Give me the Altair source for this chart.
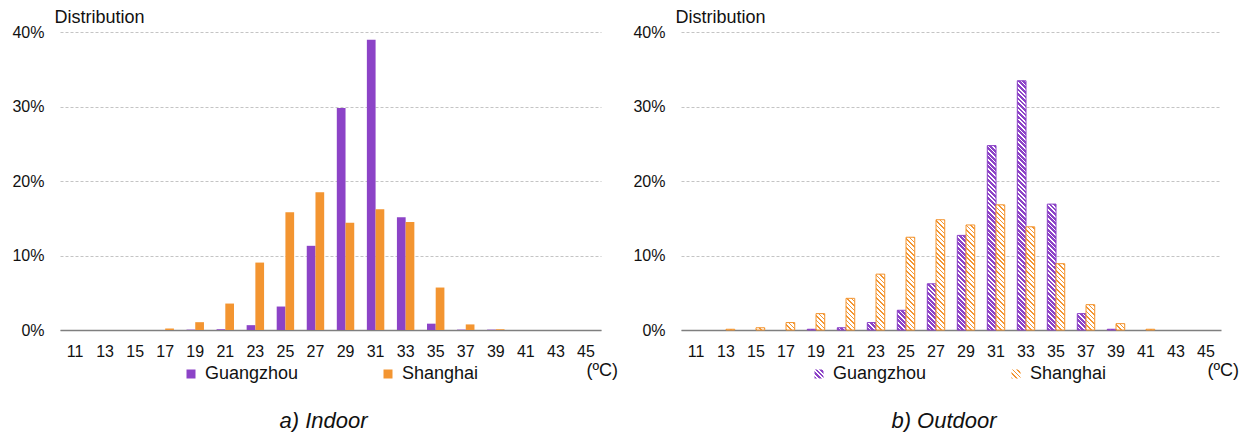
import json
import math
import altair as alt

# ---------------- data ----------------
temps = [str(t) for t in range(11, 46, 2)]
cities = ["Guangzhou", "Shanghai"]

indoor_gz = [0, 0, 0, 0, 0.05, 0.1, 0.65, 3.15, 11.3, 29.8, 38.95, 15.15, 0.85, 0.05, 0.05, 0, 0, 0]
indoor_sh = [0, 0, 0, 0.2, 1.05, 3.55, 9.05, 15.8, 18.5, 14.4, 16.2, 14.5, 5.7, 0.75, 0.1, 0, 0, 0]
outdoor_gz = [0, 0, 0, 0, 0.1, 0.3, 1.0, 2.65, 6.2, 12.7, 24.75, 33.45, 16.9, 2.2, 0.1, 0, 0, 0]
outdoor_sh = [0, 0.1, 0.3, 1.0, 2.2, 4.25, 7.5, 12.45, 14.8, 14.1, 16.8, 13.85, 8.9, 3.4, 0.85, 0.1, 0, 0]

panel_titles = ["a) Indoor", "b) Outdoor"]
y_title = "Distribution"
x_title = "(ºC)"

# ---------------- style ----------------
PURPLE = "#8C43C7"
ORANGE = "#F39531"
COL = {"Guangzhou": PURPLE, "Shanghai": ORANGE}
FRAC = {"Guangzhou": 0.62, "Shanghai": 0.35}
FONT = "Liberation Sans"
H = 298
W_L, W_R = 541, 540
YMAX = 0.4
BAR_W = 8.7
PERIOD = 3.2


def hatch(color, frac, w, h):
    """Linear gradient giving 45deg diagonal stripes in a w x h box."""
    r = h / w
    g = (1 + r) / (1 + r * r)
    n = (w + h) / (math.sqrt(2) * PERIOD)
    stops = []
    k = 0
    while k < n:
        a = min(k / n, 1)
        m = min((k + frac) / n, 1)
        b = min((k + 1) / n, 1)
        stops += [
            {"offset": round(a, 5), "color": color},
            {"offset": round(m, 5), "color": color},
            {"offset": round(m, 5), "color": "#ffffff"},
            {"offset": round(b, 5), "color": "#ffffff"},
        ]
        k += 1
    return {"gradient": "linear", "x1": 0, "y1": 1, "x2": round(g, 6),
            "y2": round(1 - g * r, 6), "stops": stops}


def records(gz, sh, hatched):
    rows = []
    for i, t in enumerate(temps):
        for city, vals in zip(cities, (gz, sh)):
            v = vals[i] / 100
            row = {"temp": t, "city": city, "share": v}
            if hatched:
                row["hatch"] = hatch(COL[city], FRAC[city], BAR_W, v / YMAX * H)
            rows.append(row)
    return rows


def panel(gz, sh, hatched, title, width, legend_x):
    data = alt.Data(values=records(gz, sh, hatched))
    x = alt.X(
        "temp:O", sort=temps,
        scale=alt.Scale(paddingInner=0.42, paddingOuter=0.21),
        axis=alt.Axis(
            title=x_title, labelAngle=0, labelFontSize=16, labelFont=FONT,
            labelColor="#111111", labelPadding=13, ticks=False,
            domainColor="#7f7f7f", domainWidth=1.6, grid=False,
            titleFont=FONT, titleFontSize=18, titleFontWeight="normal",
            titleColor="#111111", titleAlign="left", titleBaseline="alphabetic",
            titleAnchor="start", titleX=526, titleY=45,
        ),
    )
    y = alt.Y(
        "share:Q",
        scale=alt.Scale(domain=[0, YMAX]),
        axis=alt.Axis(
            values=[0, 0.1, 0.2, 0.3, 0.4], format=".0%", title=y_title,
            labelFontSize=16, labelFont=FONT, labelColor="#111111",
            labelPadding=16, ticks=False, domain=False,
            grid=True, gridDash=[3, 2], gridColor="#c4c4c4", gridWidth=1,
            titleFont=FONT, titleFontSize=18, titleFontWeight="normal",
            titleColor="#111111", titleAngle=0, titleAlign="left",
            titleBaseline="alphabetic", titleAnchor="start",
            titleX=-6, titleY=-10,
        ),
    )
    xo = alt.XOffset("city:N", sort=cities,
                     scale=alt.Scale(paddingInner=0, paddingOuter=0))
    legend = alt.Legend(
        title=None, orient="none", legendX=legend_x, legendY=333,
        direction="horizontal", symbolType="square", symbolSize=81,
        symbolStrokeWidth=0, labelFontSize=18, labelFont=FONT,
        labelColor="#111111", labelOffset=5, columnPadding=80, padding=0,
    )
    base = alt.Chart(data).encode(x=x, y=y, xOffset=xo)
    if not hatched:
        chart = base.mark_bar().encode(
            color=alt.Color("city:N", sort=cities,
                            scale=alt.Scale(domain=cities, range=[PURPLE, ORANGE]),
                            legend=legend)
        )
    else:
        rng = [alt.ExprRef(json.dumps(hatch(COL[c], FRAC[c], 9, 9))) for c in cities]
        legend_layer = base.mark_bar().encode(
            color=alt.Color("city:N", sort=cities,
                            scale=alt.Scale(domain=cities, range=rng),
                            legend=legend)
        )
        hatch_layer = base.mark_bar(strokeWidth=1).transform_filter(
            "datum.share > 0"
        ).encode(
            fill=alt.Fill("hatch:N", scale=None),
            stroke=alt.Stroke("city:N", sort=cities,
                              scale=alt.Scale(domain=cities, range=[PURPLE, ORANGE]),
                              legend=None),
        )
        chart = alt.layer(legend_layer, hatch_layer)
    return chart.properties(
        width=width, height=H,
        title=alt.TitleParams(
            title, orient="bottom", anchor="middle", fontSize=22,
            fontStyle="italic", fontWeight="normal", font=FONT,
            color="#111111", offset=28, dx=-7,
        ),
    )


left = panel(indoor_gz, indoor_sh, False, panel_titles[0], W_L, 122)
right = panel(outdoor_gz, outdoor_sh, True, panel_titles[1], W_R, 129)

chart = alt.hconcat(left, right, spacing=14).resolve_scale(
    color="independent", stroke="independent"
).resolve_legend(
    color="independent", stroke="independent"
).properties(
    padding={"left": 11, "top": 8, "right": 0, "bottom": 0}
).configure(
    font=FONT, view=alt.ViewConfig(stroke=None)
)

chart.save("out.html", embed_options={"renderer": "svg", "actions": False})
